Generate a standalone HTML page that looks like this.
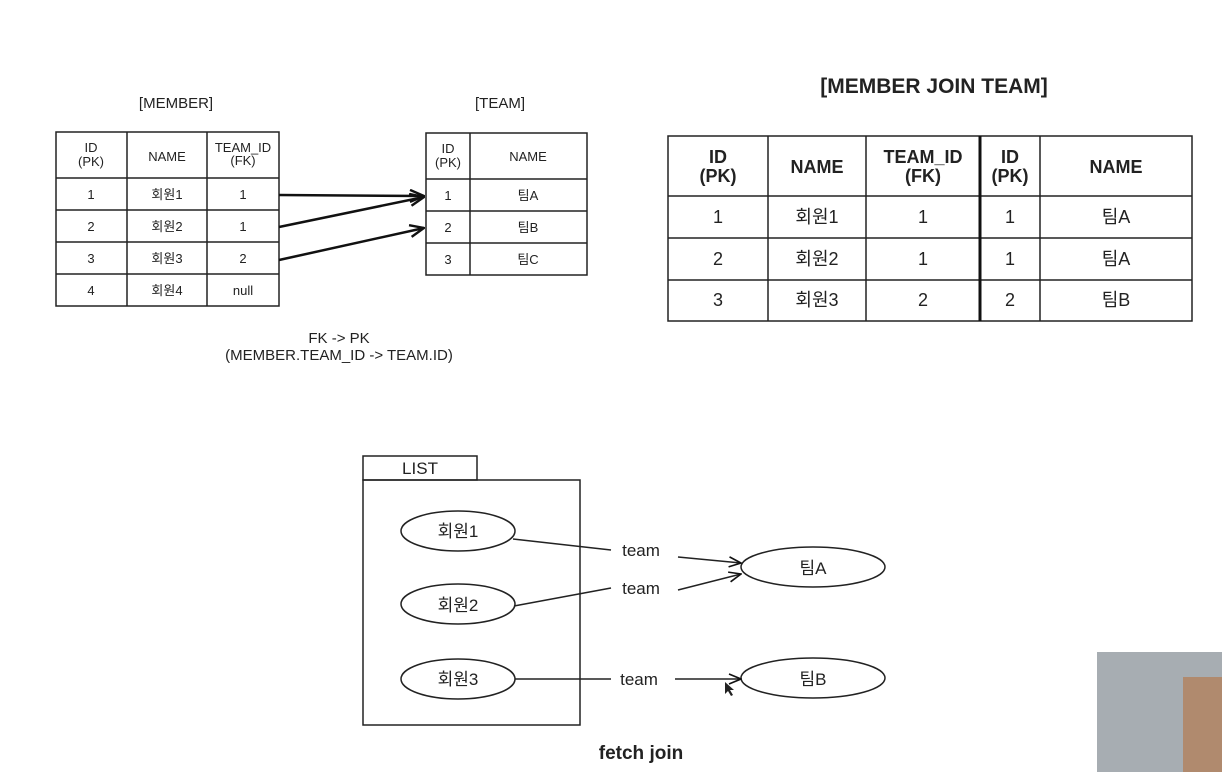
<!DOCTYPE html>
<html><head><meta charset="utf-8"><style>
body{margin:0;background:#fff;width:1222px;height:772px;overflow:hidden}
text{font-family:"Liberation Sans","Noto Sans CJK KR",sans-serif;fill:#222}
</style></head><body>
<svg width="1222" height="772" viewBox="0 0 1222 772" xmlns="http://www.w3.org/2000/svg">
<defs><marker id="a" markerWidth="14" markerHeight="12" refX="13" refY="6" orient="auto" markerUnits="userSpaceOnUse"><path d="M1,1 L13,6 L1,11" fill="none" stroke="#111" stroke-width="1.6"/></marker>
<marker id="b" markerWidth="16" markerHeight="14" refX="15" refY="7" orient="auto" markerUnits="userSpaceOnUse"><path d="M1,1 L15,7 L1,13" fill="none" stroke="#111" stroke-width="2.4"/></marker></defs>
<g font-size="15" text-anchor="middle">
<text x="176" y="108" fill="#444">[MEMBER]</text>
<text x="500" y="108" fill="#444">[TEAM]</text>
</g>
<g stroke="#222" stroke-width="1.5" fill="none">
<rect x="56" y="132" width="223" height="174"/>
<path d="M127 132V306M207 132V306M56 178H279M56 210H279M56 242H279M56 274H279"/>
<rect x="426" y="133" width="161" height="142"/>
<path d="M470 133V275M426 179H587M426 211H587M426 243H587"/>
</g>
<g stroke="#111" stroke-width="2.5" fill="none">
<path d="M279 195 L424 196" marker-end="url(#b)"/>
<path d="M279 227 L424 197" marker-end="url(#b)"/>
<path d="M279 260 L424 228" marker-end="url(#b)"/>
</g>
<g font-size="13" text-anchor="middle">
<text x="91" y="152">ID</text><text x="91" y="166">(PK)</text>
<text x="167" y="161">NAME</text>
<text x="243" y="152">TEAM_ID</text><text x="243" y="165">(FK)</text>
<text x="91" y="199">1</text><text x="167" y="199">회원1</text><text x="243" y="199">1</text>
<text x="91" y="231">2</text><text x="167" y="231">회원2</text><text x="243" y="231">1</text>
<text x="91" y="263">3</text><text x="167" y="263">회원3</text><text x="243" y="263">2</text>
<text x="91" y="295">4</text><text x="167" y="295">회원4</text><text x="243" y="295">null</text>
<text x="448" y="153">ID</text><text x="448" y="167">(PK)</text>
<text x="528" y="161">NAME</text>
<text x="448" y="200">1</text><text x="528" y="200">팀A</text>
<text x="448" y="232">2</text><text x="528" y="232">팀B</text>
<text x="448" y="264">3</text><text x="528" y="264">팀C</text>
</g>
<g font-size="15" text-anchor="middle" fill="#444">
<text x="339" y="343">FK -&gt; PK</text>
<text x="339" y="360">(MEMBER.TEAM_ID -&gt; TEAM.ID)</text>
</g>
<text x="934" y="93" font-size="21" font-weight="bold" text-anchor="middle">[MEMBER JOIN TEAM]</text>
<g stroke="#222" stroke-width="1.5" fill="none">
<rect x="668" y="136" width="524" height="185"/>
<path d="M768 136V321M866 136V321M1040 136V321M668 196H1192M668 238H1192M668 280H1192"/>
</g>
<path d="M980 136V321" stroke="#111" stroke-width="3"/>
<g font-size="18" text-anchor="middle">
<g font-weight="600">
<text x="718" y="163">ID</text><text x="718" y="182">(PK)</text>
<text x="817" y="173">NAME</text>
<text x="923" y="163">TEAM_ID</text><text x="923" y="182">(FK)</text>
<text x="1010" y="163">ID</text><text x="1010" y="182">(PK)</text>
<text x="1116" y="173">NAME</text>
</g>
<text x="718" y="223">1</text><text x="817" y="223">회원1</text><text x="923" y="223">1</text><text x="1010" y="223">1</text><text x="1116" y="223">팀A</text>
<text x="718" y="265">2</text><text x="817" y="265">회원2</text><text x="923" y="265">1</text><text x="1010" y="265">1</text><text x="1116" y="265">팀A</text>
<text x="718" y="306">3</text><text x="817" y="306">회원3</text><text x="923" y="306">2</text><text x="1010" y="306">2</text><text x="1116" y="306">팀B</text>
</g>
<g stroke="#222" stroke-width="1.5" fill="none">
<rect x="363" y="456" width="114" height="24"/>
<rect x="363" y="480" width="217" height="245"/>
<ellipse cx="458" cy="531" rx="57" ry="20"/>
<ellipse cx="458" cy="604" rx="57" ry="20"/>
<ellipse cx="458" cy="679" rx="57" ry="20"/>
<ellipse cx="813" cy="567" rx="72" ry="20"/>
<ellipse cx="813" cy="678" rx="72" ry="20"/>
<path d="M513 539 L611 550"/><path d="M678 557 L741 563" marker-end="url(#a)"/>
<path d="M514 606 L611 588"/><path d="M678 590 L741 574" marker-end="url(#a)"/>
<path d="M515 679 L611 679"/><path d="M675 679 L741 679" marker-end="url(#a)"/>
</g>
<g font-size="17" text-anchor="middle">
<text x="420" y="474">LIST</text>
<text x="458" y="537">회원1</text><text x="458" y="611">회원2</text><text x="458" y="685">회원3</text>
<text x="813" y="574">팀A</text><text x="813" y="685">팀B</text>
<text x="641" y="556">team</text><text x="641" y="594">team</text><text x="639" y="685">team</text>
<text x="641" y="759" font-weight="bold" font-size="19">fetch join</text>
</g>
<path d="M725 682 L725 694 L728 691 L731 696 L733 695 L730 690 L734 690 Z" fill="#222"/>
<rect x="1097" y="652" width="125" height="120" fill="#a7adb2"/>
<rect x="1183" y="677" width="39" height="95" fill="#b08a6e"/>
</svg>
</body></html>
